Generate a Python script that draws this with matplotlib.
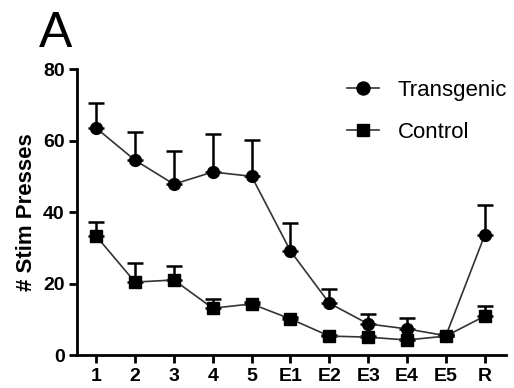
import matplotlib.pyplot as plt
import numpy as np

plt.rcParams['font.family'] = ['Liberation Sans', 'DejaVu Sans']

# datos
sessions = ['1', '2', '3', '4', '5', 'E1', 'E2', 'E3', 'E4', 'E5', 'R']
transgenic = [63.5, 54.5, 47.8, 51.2, 50.0, 29.1, 14.5, 8.7, 7.3, 5.4, 33.6]
transgenic_err = [7.0, 7.9, 9.2, 10.6, 10.1, 7.8, 4.0, 2.8, 3.0, 0.5, 8.4]
control = [33.3, 20.4, 21.0, 13.1, 14.3, 10.1, 5.3, 5.0, 4.2, 5.3, 10.9]
control_err = [3.9, 5.3, 3.9, 2.6, 0.5, 0.5, 0.3, 0.3, 0.3, 0.3, 2.8]

x = np.arange(len(sessions))

fig = plt.figure(figsize=(5.14, 3.88), dpi=100)
ax = fig.add_axes([0.15, 0.085, 0.834, 0.737])

# barras de error solo hacia arriba
ax.errorbar(x, transgenic, yerr=[np.zeros(len(x)), transgenic_err], fmt='none',
            ecolor='black', elinewidth=1.8, capsize=6, capthick=1.8, zorder=2)
ax.errorbar(x, control, yerr=[np.zeros(len(x)), control_err], fmt='none',
            ecolor='black', elinewidth=1.8, capsize=6, capthick=1.8, zorder=2)

ax.plot(x, transgenic, color='#333333', lw=1.2, marker='o', ms=8.5,
        mfc='black', mec='black', label='Transgenic', zorder=3)
ax.plot(x, control, color='#333333', lw=1.2, marker='s', ms=8.5,
        mfc='black', mec='black', label='Control', zorder=3)

ax.set_xlim(-0.49, 10.54)
ax.set_ylim(0, 80)
ax.set_yticks([0, 20, 40, 60, 80])
ax.set_xticks(x)
ax.set_xticklabels(sessions)

for s in ['top', 'right']:
    ax.spines[s].set_visible(False)
for s in ['left', 'bottom']:
    ax.spines[s].set_linewidth(2)

ax.tick_params(direction='out', length=6, width=2, labelsize=14, pad=3)
for lbl in ax.get_xticklabels() + ax.get_yticklabels():
    lbl.set_fontweight('bold')

ax.set_ylabel('# Stim Presses', fontsize=16, fontweight='bold', labelpad=4)

# leyenda
leg = ax.legend(loc='upper left', bbox_to_anchor=(0.629, 0.962), frameon=False,
                fontsize=16, handlelength=1.45, labelspacing=0.95,
                handletextpad=0.85, borderpad=0, borderaxespad=0, markerscale=1.1)

# letra del panel
fig.text(0.076, 0.879, 'A', fontsize=36, ha='left', va='baseline')

plt.savefig('out.png', dpi=100)
plt.close()
